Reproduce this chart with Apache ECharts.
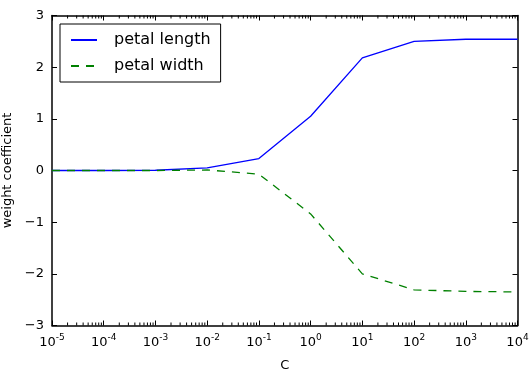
<!DOCTYPE html>
<html><head><meta charset="utf-8">
<script src="https://cdn.jsdelivr.net/npm/echarts@6/dist/echarts.min.js"></script>
<style>html,body{margin:0;padding:0;background:#fff}#c{width:532px;height:374px}</style>
</head><body><div id="c"></div>
<script>
const cValues = [1e-5, 1e-4, 1e-3, 1e-2, 1e-1, 1e0, 1e1, 1e2, 1e3, 1e4];
const petalLength = [0.0, 0.0, 0.005, 0.05, 0.23, 1.05, 2.18, 2.50, 2.54, 2.54];
const petalWidth = [0.0, 0.0, 0.0, 0.01, -0.07, -0.84, -2.0, -2.31, -2.34, -2.35];
const yTicks = [-3, -2, -1, 0, 1, 2, 3];
const minorMultipliers = [2, 3, 4, 5, 6, 7, 8, 9];
const minorDecades = [-5, -4, -3, -2, -1, 0, 1, 2, 3];

const minorTicks = [];
minorDecades.forEach(e => minorMultipliers.forEach(m => minorTicks.push([m * Math.pow(10, e), 0])));

const FONT = 'DejaVu Sans';
function expLabel(v) {
  const e = Math.round(Math.log10(v));
  return '{b|10}{s|' + e + '}';
}
const xLabelRich = {
  b: {fontFamily: FONT, fontSize: 13, color: '#000', verticalAlign: 'bottom', lineHeight: 16},
  s: {fontFamily: FONT, fontSize: 9, color: '#000', verticalAlign: 'top', padding: [0, 0, 8, 0], lineHeight: 16}
};

const chart = echarts.init(document.getElementById('c'), null, {renderer: 'canvas'});
const commonX = {
  type: 'log', min: 1e-5, max: 1e4, logBase: 10,
  axisLine: {show: true, onZero: false, lineStyle: {color: '#000', width: 1.5}},
  splitLine: {show: false},
  axisTick: {show: true, inside: true, length: 5, lineStyle: {color: '#000'}}
};
const commonY = {
  type: 'value', min: -3, max: 3, interval: 1,
  axisLine: {show: true, onZero: false, lineStyle: {color: '#000', width: 1.5}},
  splitLine: {show: false},
  axisTick: {show: true, inside: true, length: 5, lineStyle: {color: '#000'}}
};
chart.setOption({
  animation: false,
  backgroundColor: '#fff',
  grid: {left: 52, top: 15.5, width: 465.5, height: 310, containLabel: false, outerBoundsMode: 'none'},
  legend: {
    left: 60, top: 24, orient: 'vertical',
    data: ['petal length', 'petal width'],
    borderColor: '#000', borderWidth: 1, borderRadius: 0,
    padding: [8, 10, 8, 10], itemGap: 10,
    itemWidth: 26, itemHeight: 14,
    itemStyle: {opacity: 0},
    textStyle: {fontFamily: FONT, fontSize: 16, color: '#000', padding: [0, 0, 0, 12]}
  },
  xAxis: [
    Object.assign({}, commonX, {
      position: 'bottom', name: 'C', nameLocation: 'middle', nameGap: 34,
      nameTextStyle: {fontFamily: FONT, fontSize: 13, color: '#000'},
      axisLabel: {margin: 8, formatter: expLabel, rich: xLabelRich, showMinLabel: true, showMaxLabel: true}
    }),
    Object.assign({}, commonX, {position: 'top', axisLabel: {show: false}})
  ],
  yAxis: [
    Object.assign({}, commonY, {
      position: 'left', name: 'weight coefficient', nameLocation: 'middle', nameGap: 33,
      nameTextStyle: {fontFamily: FONT, fontSize: 13, color: '#000'},
      axisLabel: {margin: 8, fontFamily: FONT, fontSize: 13, color: '#000',
        formatter: v => String(v).replace('-', '\u2212')}
    }),
    Object.assign({}, commonY, {position: 'right', axisLabel: {show: false}})
  ],
  series: [
    {
      name: 'petal length', type: 'line', symbol: 'none',
      data: cValues.map((c, i) => [c, petalLength[i]]),
      lineStyle: {color: '#0000ff', width: 1.3}, itemStyle: {color: '#0000ff'}
    },
    {
      name: 'petal width', type: 'line', symbol: 'none',
      data: cValues.map((c, i) => [c, petalWidth[i]]),
      lineStyle: {color: '#008000', width: 1.3, type: [8, 7]}, itemStyle: {color: '#008000'}
    },
    {
      name: 'minor', type: 'custom', silent: true, clip: false,
      data: minorTicks,
      renderItem: function (params, api) {
        const x = api.value(0);
        const b = api.coord([x, -3]);
        const t = api.coord([x, 3]);
        return {type: 'group', children: [
          {type: 'line', shape: {x1: b[0], y1: b[1], x2: b[0], y2: b[1] - 3}, style: {stroke: '#000', lineWidth: 1}},
          {type: 'line', shape: {x1: t[0], y1: t[1], x2: t[0], y2: t[1] + 3}, style: {stroke: '#000', lineWidth: 1}}
        ]};
      }
    }
  ]
});
</script></body></html>
